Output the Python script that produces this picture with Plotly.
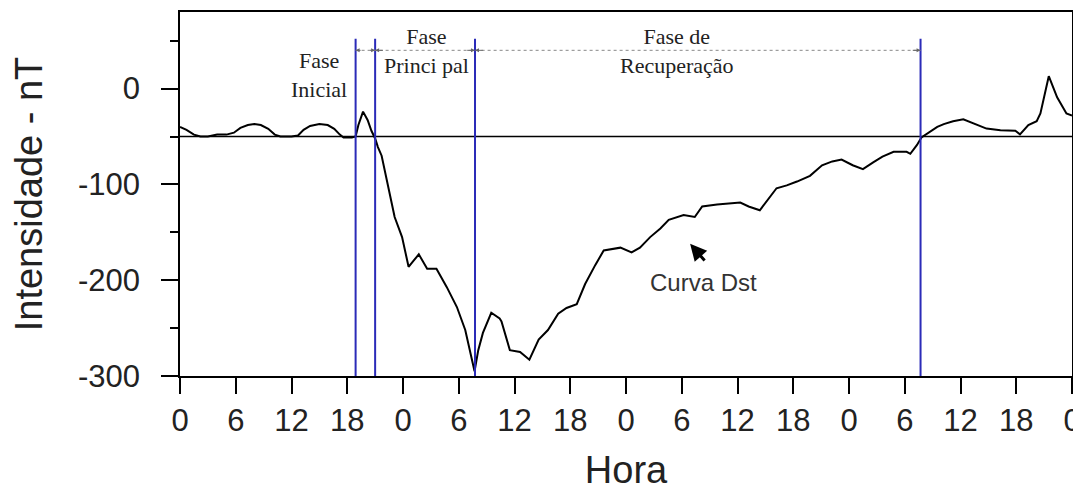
import plotly.graph_objects as go

# Dst curve (hours since start, nT)
hours = [0, 0.7, 1.5, 2.2, 3, 4, 5, 5.8, 6.5, 7.3, 8, 8.7, 9.5, 10.2, 10.8, 12,
         12.7, 13.3, 14, 15, 15.9, 16.6, 17.2, 17.6, 18.5, 18.9, 19.2, 19.7, 20.2,
         20.6, 21.0, 21.3, 21.7, 22.2, 22.8, 23.1, 23.9, 24.6, 25.1, 25.7, 26.6,
         27.6, 28.7, 29.8, 30.7, 31.2, 31.7, 32.1, 32.6, 33.5, 34.4, 34.6, 35.5,
         36.6, 37.6, 38.6, 39.6, 40.7, 41.6, 42.7, 43.6, 44.7, 45.6, 47.4, 48.6,
         49.5, 50.6, 51.7, 52.6, 54.2, 55.4, 56.2, 57.8, 60.3, 61.2, 62.4, 63.3,
         64.2, 65.3, 66.4, 67.8, 69.1, 70.2, 71.2, 72.4, 73.5, 74.6, 75.6, 76.8,
         78.2, 78.6, 79.3, 79.8, 80.7, 81.5, 82.2, 83.2, 84.3, 85.4, 86.8, 88.3,
         89.9, 90.4, 91.3, 92.2, 92.6, 93.5, 94.4, 95.4, 96]
dst_nt = [-40, -43, -48, -50, -50, -48, -48, -46, -41, -38, -37, -38, -42, -48, -50, -50,
          -49, -43, -39, -37, -38, -42, -48, -51, -51, -50, -38, -24, -33,
          -44, -52, -61, -70, -92, -120, -134, -155, -186, -180, -173, -188,
          -188, -207, -228, -252, -272, -295, -273, -255, -234, -240, -243, -273,
          -275, -283, -262, -252, -235, -229, -225, -204, -184, -169, -166, -171,
          -166, -155, -146, -137, -132, -134, -123, -121, -119, -123, -127, -115,
          -104, -101, -97, -91, -80, -76, -74, -80, -84, -77, -71, -66,
          -66, -68, -59, -51, -45, -40, -37, -34, -32, -36.5, -41.7, -43.5,
          -44, -47.7, -38, -34, -26, 13, -9, -26, -28]

phase_bounds = [18.9, 21.0, 31.75, 79.7]
phase_names = ['Fase<br>Inicial', 'Fase<br>Princi pal', 'Fase de<br>Recuperação']
phase_label_x = [15, 26.5, 53.5]
phase_label_y = [14, 39, 39]
quiet_level = -50

hour_ticks = list(range(0, 97, 6))
hour_labels = ['0', '6', '12', '18'] * 4 + ['0']
dst_ticks = [0, -100, -200, -300]
dst_labels = ['0', '-100', '-200', '-300']

ink = '#222222'
blue = '#2b2bb8'

fig = go.Figure()
fig.add_trace(go.Scatter(x=hours, y=dst_nt, mode='lines',
                         line=dict(color='black', width=2), showlegend=False))

fig.add_hline(y=quiet_level, line=dict(color='black', width=1.5))

for b in phase_bounds:
    fig.add_shape(type='line', x0=b, x1=b, y0=-300, y1=52,
                  line=dict(color=blue, width=2))

# dotted span line with arrowheads between the phase boundaries
fig.add_shape(type='line', x0=phase_bounds[0], x1=phase_bounds[-1], y0=40, y1=40,
              line=dict(color='#888888', width=1, dash='dot'))
for a, b in zip(phase_bounds[:-1], phase_bounds[1:]):
    step = min(1.0, (b - a) / 3)
    for tip, tail in [(a, a + step), (b, b - step)]:
        fig.add_annotation(x=tip, y=40, ax=tail, ay=40, axref='x', ayref='y',
                           text='', showarrow=True, arrowhead=2, arrowsize=0.8,
                           arrowwidth=1, arrowcolor='#666666')

for name, lx, ly in zip(phase_names, phase_label_x, phase_label_y):
    fig.add_annotation(x=lx, y=ly, text=name, showarrow=False, yanchor='middle',
                       font=dict(family='Liberation Serif', size=22, color=ink))

fig.add_annotation(x=56.3, y=-202, text='Curva Dst', showarrow=False,
                   font=dict(family='Liberation Sans', size=24, color='#333333'))
fig.add_annotation(x=54.9, y=-162, ax=56.6, ay=-181, axref='x', ayref='y',
                   text='', showarrow=True, arrowhead=2, arrowsize=1.1,
                   arrowwidth=3, arrowcolor='black')

# page body keeps an 8px margin, so the figure is 8px smaller and margins shift
axis_font = dict(family='Liberation Sans', size=31, color=ink)
fig.update_layout(
    width=1073, height=484,
    margin=dict(l=172, r=9, t=4, b=116),
    plot_bgcolor='white', paper_bgcolor='white',
    font=dict(family='Liberation Sans', color=ink),
)
fig.update_xaxes(range=[0, 96], tickvals=hour_ticks, ticktext=hour_labels,
                 ticks='outside', ticklen=16, tickwidth=1.5, tickcolor='black',
                 showline=True, linecolor='black', linewidth=1.5, mirror=True,
                 showgrid=False, zeroline=False, tickfont=axis_font, automargin=False,
                 title=dict(text='Hora', font=dict(size=38, color=ink), standoff=19))
fig.update_yaxes(range=[-300, 80], tickvals=dst_ticks, ticktext=dst_labels,
                 ticks='outside', ticklen=17, tickwidth=1.5, tickcolor='black',
                 ticklabelstandoff=15,
                 minor=dict(tick0=0, dtick=50, ticks='outside', ticklen=8,
                            tickwidth=1.5, tickcolor='black'),
                 showline=True, linecolor='black', linewidth=1.5, mirror=True,
                 showgrid=False, zeroline=False, tickfont=axis_font, automargin=False,
                 title=dict(text='Intensidade - nT', font=dict(size=38, color=ink),
                            standoff=28))

fig.write_html("out.html")
